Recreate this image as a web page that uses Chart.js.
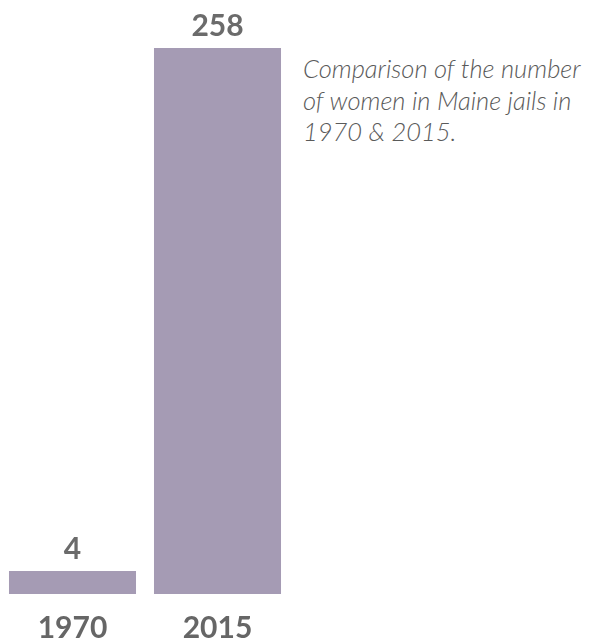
<!DOCTYPE html>
<html lang="en">
<head>
    <meta charset="UTF-8">
    <title>Women in Maine jails</title>
    <style>
        body {
            margin: 0;
            background: #fff;
            font-family: Lato, sans-serif;
            overflow: hidden;
        }
        #wrap {
            position: relative;
            width: 597px;
            height: 640px;
            overflow: hidden;
        }
        #chartBox {
            position: absolute;
            left: 0;
            top: 0;
            width: 290px;
            height: 656px;
        }
        #caption {
            position: absolute;
            left: 303px;
            top: 53px;
            width: 294px;
            font-family: Lato, sans-serif;
            font-style: italic;
            font-weight: 300;
            font-size: 25.5px;
            line-height: 31.5px;
            color: #5a5a5a;
        }
    </style>
</head>
<body>
    <div id="wrap">
        <div id="chartBox"><canvas id="myChart"></canvas></div>
        <div id="caption">Comparison of the number of women in Maine jails in 1970 &amp; 2015.</div>
    </div>

    <script src="https://cdn.jsdelivr.net/npm/chart.js"></script>
    <script>

const years = ['1970', '2015'];
const women = [4, 258];

// value printed above each bar
const valueLabels = {
    id: 'valueLabels',
    afterDatasetsDraw(chart) {
        const ctx = chart.ctx;
        const meta = chart.getDatasetMeta(0);
        ctx.save();
        ctx.font = 'bold 30px Lato, sans-serif';
        ctx.fillStyle = '#6b6b6b';
        ctx.textAlign = 'center';
        ctx.textBaseline = 'alphabetic';
        meta.data.forEach((bar, i) => {
            ctx.fillText(String(chart.data.datasets[0].data[i]), bar.x, bar.y - 12);
        });
        ctx.restore();
    }
};

const ctx = document.getElementById('myChart').getContext('2d');
new Chart(ctx, {
    type: 'bar',
    data: {
        labels: years,
        datasets: [{
            data: women,
            backgroundColor: '#a59bb4',
            borderWidth: 0,
            minBarLength: 23,
            categoryPercentage: 0.876,
            barPercentage: 1
        }]
    },
    options: {
        responsive: true,
        maintainAspectRatio: false,
        animation: false,
        layout: {
            padding: { top: 48, left: 0, right: 0, bottom: 2 }
        },
        plugins: {
            legend: { display: false },
            tooltip: { enabled: false }
        },
        scales: {
            x: {
                grid: { display: false },
                border: { display: false },
                ticks: {
                    color: '#666',
                    padding: 8,
                    font: { family: 'Lato, sans-serif', size: 30, weight: 'bold' }
                }
            },
            y: {
                display: false,
                min: 0,
                max: 258
            }
        }
    },
    plugins: [valueLabels]
});

    </script>
</body>
</html>
